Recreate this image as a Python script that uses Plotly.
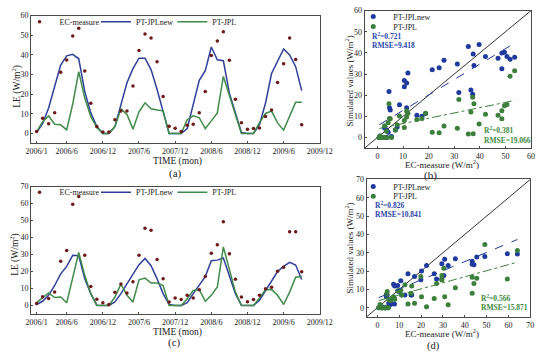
import plotly.graph_objects as go

# ---------------- data ----------------
tick_pos = [0, 5, 11, 17, 23, 29, 35, 41, 47]
tick_text = ['2006/1', '2006/6', '2006/12', '2007/6', '2007/12',
             '2008/6', '2008/12', '2009/6', '2009/12']

# panel (a): monthly LE, 2006/1 .. 2009/9
ec_a = [1.0, 7.7, 5.0, 10.5, 31.2, 37.4, 49.6, 53.6, 31.8, 15.4, 3.5, 0.7,
        0.7, 7.0, 11.4, 11.4, 24.1, 42.2, 50.6, 48.6, 36.5, 18.8, 3.7, 2.7,
        1.0, 4.2, 4.7, 10.5, 21.4, 39.7, 47.1, 51.8, 37.2, 17.4, 5.5, 2.2,
        2.5, 2.8, 8.6, 11.9, 26.0, 35.5, 48.6, 37.7, 4.5]
new_a = [0.5, 5.0, 13.0, 24.0, 34.8, 39.5, 40.3, 38.0, 21.3, 10.5, 3.5, 0.0,
         0.0, 3.5, 14.0, 25.8, 33.0, 38.3, 38.3, 32.5, 22.4, 11.3, 0.0, 0.0,
         0.0, 2.5, 14.0, 27.0, 32.0, 44.0, 37.5, 37.0, 20.5, 10.0, 0.5, 0.0,
         0.0, 4.5, 15.5, 30.5, 36.5, 43.0, 40.0, 34.0, 21.8]
jpl_a = [0.8, 6.0, 8.9, 4.7, 4.4, 1.8, 15.0, 31.5, 18.0, 8.5, 3.0, 0.0,
         0.0, 3.5, 12.5, 9.7, 2.2, 11.0, 15.6, 12.6, 12.0, 11.5, 0.0, 0.0,
         0.0, 7.0, 9.0, 8.0, 2.5, 6.4, 10.5, 29.0, 19.0, 9.0, 0.0, 0.0,
         0.0, 5.5, 10.2, 11.4, 5.4, 1.7, 8.9, 15.9, 15.9]

# panel (c)
ec_c = [1.2, 5.2, 4.1, 7.9, 26.0, 32.4, 59.5, 64.1, 29.5, 11.2, 3.7, 1.6,
        0.6, 7.8, 12.6, 7.4, 14.0, 29.5, 45.5, 44.2, 27.1, 15.7, 2.1, 4.5,
        3.5, 6.0, 4.5, 9.3, 17.0, 30.8, 35.7, 49.2, 30.4, 15.4, 5.0, 2.2,
        3.6, 6.0, 9.8, 10.7, 20.2, 22.5, 43.4, 43.4, 19.9]
new_c = [0.6, 2.5, 6.0, 11.8, 18.6, 23.0, 29.5, 29.3, 15.7, 7.0, 0.2, 0.0,
         0.0, 2.1, 7.0, 12.8, 18.6, 24.0, 27.7, 23.4, 15.7, 7.0, 0.6, 0.0,
         0.0, 1.7, 7.0, 12.2, 17.0, 26.4, 26.7, 28.0, 17.6, 7.0, 0.2, 0.0,
         0.0, 3.1, 8.9, 14.7, 20.0, 23.0, 25.4, 23.8, 15.3]
jpl_c = [1.7, 4.5, 7.4, 4.7, 5.0, 1.6, 15.7, 31.2, 17.6, 7.0, 0.0, 0.0,
         0.0, 5.0, 12.6, 6.0, 2.1, 15.1, 16.1, 13.2, 13.2, 11.8, 0.0, 0.0,
         0.0, 4.0, 8.9, 9.3, 2.5, 6.0, 10.9, 34.5, 21.5, 7.9, 0.0, 0.0,
         0.0, 4.5, 9.3, 9.5, 6.0, 0.6, 7.9, 16.7, 17.0]

# regression lines: [slope, intercept]
fit_b_new = [0.73, 5.5]
fit_b_jpl = [0.25, 4.1]
fit_d_new = [0.50, 5.2]
fit_d_jpl = [0.33, 3.7]
stats_b = ['0.721', '9.418', '0.381', '19.066']
stats_d = ['0.826', '10.841', '0.566', '15.871']
lim_b = [-5, 60]
lim_d = [-5, 70]

# ---------------- style ----------------
W, H = 550, 352
FONT = 'Liberation Serif'
TXT = '#222222'
EC_COL = '#6e1818'
BLUE = '#2f3f9c'
GREEN = '#3f8b48'
SBLUE = '#1f3a9e'
SGREEN = '#3b7f3b'
FRAME = '#4a4a4a'


def fx(p):
    return p / W


def fy(p):
    return 1 - p / H


fig = go.Figure()
months = list(range(len(ec_a)))

# ---- time series panels ----
for ec, new, jpl, xa, ya, legs in [
        (ec_a, new_a, jpl_a, 'x', 'y', ('legend', 'legend2', 'legend3')),
        (ec_c, new_c, jpl_c, 'x3', 'y3', ('legend4', 'legend5', 'legend6'))]:
    fig.add_trace(go.Scatter(x=months, y=new, mode='lines', name='PT-JPLnew',
                             line=dict(color=BLUE, width=1.5),
                             xaxis=xa, yaxis=ya, legend=legs[1]))
    fig.add_trace(go.Scatter(x=months, y=jpl, mode='lines', name='PT-JPL',
                             line=dict(color=GREEN, width=1.5),
                             xaxis=xa, yaxis=ya, legend=legs[2]))
    fig.add_trace(go.Scatter(x=months, y=ec, mode='markers', name='EC-measure',
                             marker=dict(color=EC_COL, size=3.5),
                             xaxis=xa, yaxis=ya, legend=legs[0]))

# ---- scatter panels ----
for ec, new, jpl, fn, fj, lim, xa, ya, legs in [
        (ec_a, new_a, jpl_a, fit_b_new, fit_b_jpl, lim_b, 'x2', 'y2', ('legend7', 'legend8')),
        (ec_c, new_c, jpl_c, fit_d_new, fit_d_jpl, lim_d, 'x4', 'y4', ('legend9', 'legend10'))]:
    fig.add_trace(go.Scatter(x=lim, y=lim, mode='lines', showlegend=False,
                             line=dict(color='#333333', width=1),
                             xaxis=xa, yaxis=ya, hoverinfo='skip'))
    fig.add_trace(go.Scatter(x=ec, y=new, mode='markers', name='PT-JPLnew',
                             marker=dict(color=SBLUE, size=5),
                             xaxis=xa, yaxis=ya, legend=legs[0]))
    fig.add_trace(go.Scatter(x=ec, y=jpl, mode='markers', name='PT-JPL',
                             marker=dict(color=SGREEN, size=5),
                             xaxis=xa, yaxis=ya, legend=legs[1]))
    xf = [min(ec), max(ec)]
    fig.add_trace(go.Scatter(x=xf, y=[fn[0] * v + fn[1] for v in xf], mode='lines',
                             showlegend=False, hoverinfo='skip',
                             line=dict(color=SBLUE, width=1, dash='dash'),
                             xaxis=xa, yaxis=ya))
    fig.add_trace(go.Scatter(x=xf, y=[fj[0] * v + fj[1] for v in xf], mode='lines',
                             showlegend=False, hoverinfo='skip',
                             line=dict(color=SGREEN, width=1, dash='dashdot'),
                             xaxis=xa, yaxis=ya))

# ---------------- axes ----------------
tickfont = dict(family=FONT, size=8, color=TXT)


def axis(domain, rng, **kw):
    d = dict(domain=domain, range=rng, showgrid=False, zeroline=False,
             showline=True, mirror=True, linecolor=FRAME, linewidth=1,
             ticks='inside', ticklen=2, tickcolor=FRAME, tickfont=tickfont)
    d.update(kw)
    return d


xdom_ts = [fx(26), fx(325)]
fig.update_layout(
    xaxis=axis(xdom_ts, [-0.9, 47.1], anchor='y', tickvals=tick_pos, ticktext=tick_text),
    yaxis=axis([fy(140.9), fy(11.7)], [-5, 60], anchor='x',
               tickvals=[0, 10, 20, 30, 40, 50, 60]),
    xaxis3=axis(xdom_ts, [-0.9, 47.1], anchor='y3', tickvals=tick_pos, ticktext=tick_text),
    yaxis3=axis([fy(313.6), fy(184.6)], [-5, 70], anchor='x3',
                tickvals=[0, 10, 20, 30, 40, 50, 60, 70]),
    xaxis2=axis([fx(370.8), fx(542.8)], [-5, 60], anchor='y2',
                tickvals=[0, 10, 20, 30, 40, 50, 60]),
    yaxis2=axis([fy(145.7), fy(6.7)], [-5, 60], anchor='x2',
                tickvals=[0, 10, 20, 30, 40, 50, 60]),
    xaxis4=axis([fx(372.7), fx(542)], [-5, 70], anchor='y4',
                tickvals=[0, 10, 20, 30, 40, 50, 60, 70]),
    yaxis4=axis([fy(316.5), fy(177.5)], [-5, 70], anchor='x4',
                tickvals=[0, 10, 20, 30, 40, 50, 60, 70]),
)


# ---------------- legends ----------------
def leg(xp, yp):
    return dict(x=fx(xp), y=fy(yp), xanchor='left', yanchor='middle',
                orientation='v', bgcolor='rgba(0,0,0,0)', borderwidth=0,
                itemwidth=30, font=dict(family=FONT, size=8, color=TXT))


fig.update_layout(
    legend=leg(14, 18), legend2=leg(93, 18), legend3=leg(172, 18),
    legend4=leg(14, 190.5), legend5=leg(93, 190.5), legend6=leg(172, 190.5),
    legend7=leg(359, 12.7), legend8=leg(359, 22.7),
    legend9=leg(359, 184.5), legend10=leg(359, 194.5),
)

# ---------------- annotations (axis titles, statistics, panel tags) ----------------
ann = []


def txt(xp, yp, s, color=TXT, size=9, xanchor='left', bold=False, angle=0):
    if bold:
        s = '<b>' + s + '</b>'
    ann.append(dict(x=fx(xp), y=fy(yp), xref='paper', yref='paper', text=s,
                    showarrow=False, xanchor=xanchor, yanchor='middle',
                    textangle=angle,
                    font=dict(family=FONT, size=size, color=color)))


RB = '#2b47ad'
RG = '#3d8b3d'
txt(376.5, 32, 'R<sup>2</sup>=' + stats_b[0], RB, 7.5, bold=True)
txt(376.5, 42, 'RMSE=' + stats_b[1], RB, 7.5, bold=True)
txt(492, 127, 'R<sup>2</sup>=' + stats_b[2], RG, 7.5, bold=True)
txt(492, 138, 'RMSE=' + stats_b[3], RG, 7.5, bold=True)
txt(379, 203, 'R<sup>2</sup>=' + stats_d[0], RB, 7.5, bold=True)
txt(379, 213, 'RMSE=' + stats_d[1], RB, 7.5, bold=True)
txt(489, 297, 'R<sup>2</sup>=' + stats_d[2], RG, 7.5, bold=True)
txt(489, 307, 'RMSE=' + stats_d[3], RG, 7.5, bold=True)

# axis titles
txt(177, 159.5, 'TIME (mon)', size=9.5, xanchor='center')
txt(177, 332.5, 'TIME (mon)', size=9.5, xanchor='center')
txt(451, 161.5, 'EC-measure (W/m<sup>2</sup>)', size=9, xanchor='center')
txt(451, 332.5, 'EC-measure (W/m<sup>2</sup>)', size=9, xanchor='center')
txt(10, 83, 'LE (W/m<sup>2</sup>)', size=9.5, xanchor='center', angle=-90)
txt(8, 253, 'LE (W/m<sup>2</sup>)', size=9.5, xanchor='center', angle=-90)
txt(355, 78, 'Simulated values (W/m<sup>2</sup>)', size=9, xanchor='center', angle=-90)
txt(355, 247, 'Simulated values (W/m<sup>2</sup>)', size=9, xanchor='center', angle=-90)

# panel tags
txt(175, 171.5, '(a)', size=11, xanchor='center')
txt(439, 173, '(b)', size=11, xanchor='center')
txt(174, 342.5, '(c)', size=11, xanchor='center')
txt(442, 345.5, '(d)', size=10.5, xanchor='center')

fig.update_layout(
    annotations=ann,
    width=W, height=H,
    margin=dict(l=0, r=0, t=0, b=0),
    paper_bgcolor='white', plot_bgcolor='white',
    font=dict(family=FONT, size=9, color=TXT),
)

# the page body has a default 8px margin; remove it so the figure fills the window
fig.write_html('out.html',
               config={'displayModeBar': False},
               post_script="document.body.style.margin='0px';"
                           "document.body.style.overflow='hidden';")
